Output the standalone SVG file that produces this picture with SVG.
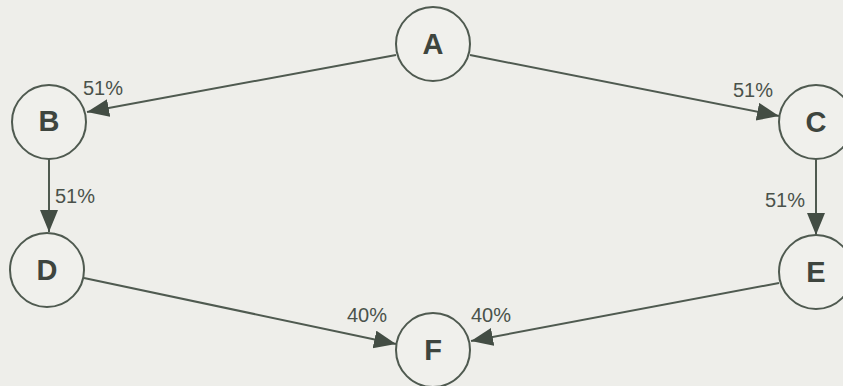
<svg xmlns="http://www.w3.org/2000/svg" width="843" height="386" viewBox="0 0 843 386">
  <style>
    .node circle { fill: #f0f0ec; stroke: #4f5a50; stroke-width: 2; }
    .node text { font-family: "Liberation Sans", Arial, sans-serif; font-weight: bold; font-size: 29px; fill: #3e453e; text-anchor: middle; }
    .edge { stroke: #4f5a50; stroke-width: 2; fill: none; marker-end: url(#arrow); }
    .lbl { font-family: "Liberation Sans", Arial, sans-serif; font-size: 20px; fill: #4a524a; }
  </style>
  <defs>
    <marker id="arrow" markerUnits="userSpaceOnUse" markerWidth="24" markerHeight="20" refX="22" refY="9" orient="auto">
      <path d="M0,0 L22,9 L0,18 z" fill="#434d44"/>
    </marker>
  </defs>
  <rect width="843" height="386" fill="#eeeeea"/>
  <g id="connectors">
    <line class="edge" x1="396" y1="55" x2="87" y2="112"/>
    <line class="edge" x1="470" y1="55" x2="779" y2="116"/>
    <line class="edge" x1="49" y1="159" x2="49" y2="232"/>
    <line class="edge" x1="816" y1="159" x2="816" y2="235"/>
    <line class="edge" x1="84" y1="278" x2="396" y2="344"/>
    <line class="edge" x1="779" y1="283" x2="471" y2="341"/>
    <text class="lbl" x="83" y="95">51%</text>
    <text class="lbl" x="733" y="97">51%</text>
    <text class="lbl" x="55" y="203">51%</text>
    <text class="lbl" x="765" y="207">51%</text>
    <text class="lbl" x="347" y="322">40%</text>
    <text class="lbl" x="471" y="322">40%</text>
  </g>
  <g id="node-A" class="node"><circle cx="433" cy="44" r="37"/><text x="433" y="54">A</text></g>
  <g id="node-B" class="node"><circle cx="49" cy="122" r="37"/><text x="49" y="131">B</text></g>
  <g id="node-C" class="node"><circle cx="816" cy="122" r="37"/><text x="816" y="132">C</text></g>
  <g id="node-D" class="node"><circle cx="47" cy="270" r="37"/><text x="47" y="280">D</text></g>
  <g id="node-E" class="node"><circle cx="816" cy="272" r="37"/><text x="816" y="282">E</text></g>
  <g id="node-F" class="node"><circle cx="433" cy="350" r="37"/><text x="433" y="360">F</text></g>
</svg>
